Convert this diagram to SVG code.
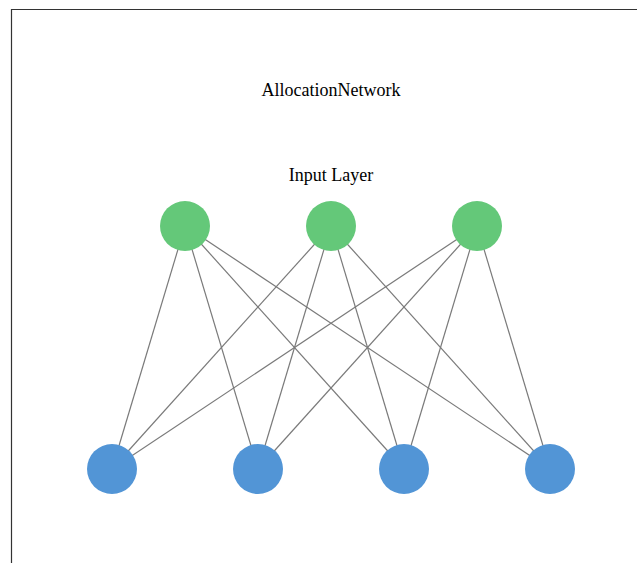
<svg xmlns="http://www.w3.org/2000/svg" width="637" height="563" viewBox="0 0 637 563">
<style>
.edge{stroke:#7a7a7a;stroke-width:1.2;fill:none}
.in{fill:#64c879}
.out{fill:#5295d6}
.t{font-family:"Liberation Serif","Times New Roman",serif;font-size:18px;fill:#000;text-anchor:middle}
</style>
<rect width="637" height="563" fill="#fff"/>
<path d="M11.5 563V9.5H637" stroke="#333" stroke-width="1.2" fill="none"/>
<text class="t" x="331" y="96">AllocationNetwork</text>
<text class="t" x="331" y="181">Input Layer</text>
<g id="connectors">
<line class="edge" x1="185" y1="226" x2="112" y2="469"/>
<line class="edge" x1="185" y1="226" x2="258" y2="469"/>
<line class="edge" x1="185" y1="226" x2="404" y2="469"/>
<line class="edge" x1="185" y1="226" x2="550" y2="469"/>
<line class="edge" x1="331" y1="226" x2="112" y2="469"/>
<line class="edge" x1="331" y1="226" x2="258" y2="469"/>
<line class="edge" x1="331" y1="226" x2="404" y2="469"/>
<line class="edge" x1="331" y1="226" x2="550" y2="469"/>
<line class="edge" x1="477" y1="226" x2="112" y2="469"/>
<line class="edge" x1="477" y1="226" x2="258" y2="469"/>
<line class="edge" x1="477" y1="226" x2="404" y2="469"/>
<line class="edge" x1="477" y1="226" x2="550" y2="469"/>
</g>
<g id="in1"><circle class="in" cx="185" cy="226" r="25"/></g>
<g id="in2"><circle class="in" cx="331" cy="226" r="25"/></g>
<g id="in3"><circle class="in" cx="477" cy="226" r="25"/></g>
<g id="out1"><circle class="out" cx="112" cy="469" r="25"/></g>
<g id="out2"><circle class="out" cx="258" cy="469" r="25"/></g>
<g id="out3"><circle class="out" cx="404" cy="469" r="25"/></g>
<g id="out4"><circle class="out" cx="550" cy="469" r="25"/></g>
</svg>
